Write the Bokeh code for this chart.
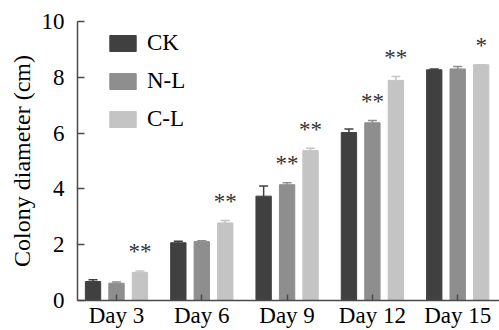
from bokeh.plotting import figure
from bokeh.models import ColumnDataSource, Whisker, TeeHead, Legend, LegendItem, FixedTicker, Range1d
from bokeh.embed import file_html
from bokeh.resources import INLINE
from bokeh.core.properties import value

days = ["Day 3", "Day 6", "Day 9", "Day 12", "Day 15"]
series = ["CK", "N-L", "C-L"]
ck = [0.68, 2.07, 3.74, 6.02, 8.27]
ck_err = [0.06, 0.05, 0.36, 0.13, 0.03]
nl = [0.62, 2.11, 4.15, 6.37, 8.30]
nl_err = [0.04, 0.03, 0.07, 0.08, 0.09]
cl = [1.01, 2.78, 5.38, 7.89, 8.45]
cl_err = [0.05, 0.09, 0.08, 0.14, 0.0]
ck_sig = ["", "", "", "", ""]
nl_sig = ["", "", "**", "**", ""]
cl_sig = ["**", "**", "**", "**", "*"]
y_ticks = [0, 2, 4, 6, 8, 10]

FONT = "serif"
colors = ["#404040", "#8e8e8e", "#c4c4c4"]
offsets = [-0.275, 0.0, 0.275]
bar_w = 0.18

p = figure(width=499, height=330, output_backend="svg", toolbar_location=None,
           x_range=Range1d(-0.457, 4.49), y_range=Range1d(0, 10),
           min_border_left=77, min_border_right=0, min_border_top=21, min_border_bottom=30)
p.outline_line_color = None
p.xgrid.visible = False
p.ygrid.visible = False

renderers = []
for vals, errs, sig, col, off in [(ck, ck_err, ck_sig, colors[0], offsets[0]),
                                  (nl, nl_err, nl_sig, colors[1], offsets[1]),
                                  (cl, cl_err, cl_sig, colors[2], offsets[2])]:
    xs = [i + off for i in range(len(days))]
    tops = [v + e for v, e in zip(vals, errs)]
    src = ColumnDataSource(dict(x=xs, top=vals, upper=tops, sig=sig))
    r = p.vbar(x="x", top="top", width=bar_w, source=src, fill_color=col, line_color=col)
    renderers.append(r)
    w = Whisker(source=src, base="x", lower="top", upper="upper", dimension="height",
                line_color=col, line_width=1.5,
                upper_head=TeeHead(size=9, line_color=col, line_width=1.5), lower_head=None)
    p.add_layout(w)
    p.text(x="x", y="upper", text="sig", source=src, text_align="center", text_baseline="middle",
           y_offset=-19, text_font=value(FONT), text_font_size="23px", text_color="#333333")

legend = Legend(items=[LegendItem(label=s, renderers=[r]) for s, r in zip(series, renderers)],
                location=(29, 168), orientation="vertical",
                glyph_width=33, glyph_height=20, label_standoff=8, spacing=12,
                padding=0, margin=0, border_line_color=None, background_fill_alpha=0,
                label_text_font=FONT, label_text_font_size="23px", label_text_color="#000000")
p.add_layout(legend, "center")

p.xaxis.ticker = FixedTicker(ticks=list(range(len(days))))
p.xaxis.major_label_overrides = {i: d for i, d in enumerate(days)}
p.yaxis.ticker = FixedTicker(ticks=y_ticks)
p.yaxis.axis_label = "Colony diameter (cm)"

for ax in (p.xaxis, p.yaxis):
    ax.axis_line_color = "#4a4a4a"
    ax.axis_line_width = 1.5
    ax.major_tick_line_color = "#4a4a4a"
    ax.major_tick_line_width = 1.5
    ax.major_tick_in = 7
    ax.major_tick_out = 0
    ax.minor_tick_line_color = None
    ax.major_label_text_font = FONT
    ax.major_label_text_font_size = "23px"
    ax.major_label_text_color = "#000000"
    ax.axis_label_text_font = FONT
    ax.axis_label_text_font_size = "24px"
    ax.axis_label_text_font_style = "normal"
    ax.axis_label_text_color = "#000000"

p.xaxis.major_tick_in = 6
p.xaxis.major_label_standoff = 2
p.yaxis.major_label_standoff = 13
p.yaxis.axis_label_standoff = 4

open("out.html", "w").write(file_html(p, INLINE))
